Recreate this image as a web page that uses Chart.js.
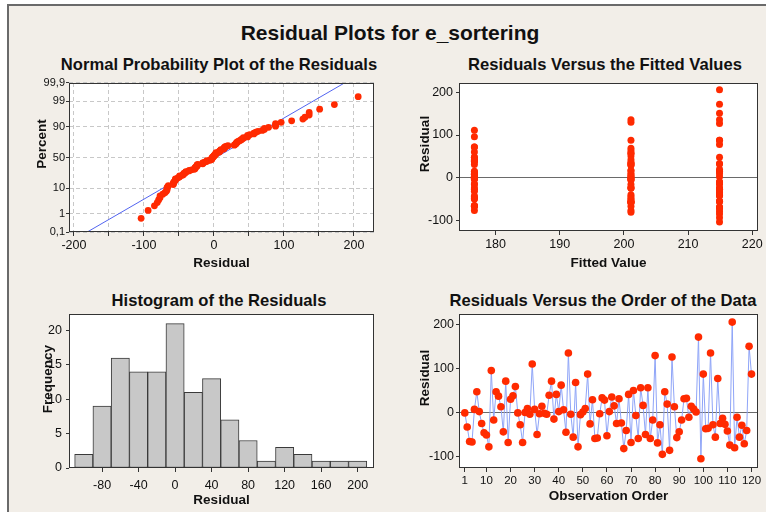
<!DOCTYPE html>
<html>
<head>
<meta charset="utf-8">
<script src="https://cdn.jsdelivr.net/npm/chart.js@4.4.1/dist/chart.umd.min.js"></script>
<style>
  html, body { margin: 0; padding: 0; width: 766px; height: 512px; overflow: hidden; background: #fff; }
  #cadre { position: absolute; left: 7px; top: 4px; width: 820px; height: 600px; background: #f2eee8;
           border-left: 2px solid #6a6a6a; border-top: 2px solid #6a6a6a; }
  .texte { position: absolute; font-family: "Liberation Sans", Arial, sans-serif; font-weight: bold;
           color: #111; white-space: nowrap; transform: translateX(-50%); }
  .vertical { position: absolute; font-family: "Liberation Sans", Arial, sans-serif; font-weight: bold;
              color: #111; white-space: nowrap; font-size: 13.5px; line-height: 14px;
              transform: translate(-50%, -50%) rotate(-90deg); z-index: 2; }
  canvas { position: absolute; }
</style>
</head>
<body>
<div id="cadre"></div>
<div class="texte" style="left:390px; top:22px; font-size:21px; line-height:21px;">Residual Plots for e_sortering</div>
<div class="texte" style="left:219px; top:56px; font-size:16.6px; line-height:17px;">Normal Probability Plot of the Residuals</div>
<div class="texte" style="left:605px; top:56px; font-size:16.6px; line-height:17px;">Residuals Versus the Fitted Values</div>
<div class="texte" style="left:219px; top:292px; font-size:16.6px; line-height:17px;">Histogram of the Residuals</div>
<div class="texte" style="left:603px; top:292px; font-size:16.6px; line-height:17px;">Residuals Versus the Order of the Data</div>
<canvas id="chartProba"></canvas>
<canvas id="chartAjustes"></canvas>
<canvas id="chartHisto"></canvas>
<canvas id="chartOrdre"></canvas>
<div class="vertical" style="left:42px; top:144px;">Percent</div>
<div class="vertical" style="left:425px; top:144px;">Residual</div>
<div class="vertical" style="left:48px; top:379px;">Frequency</div>
<div class="vertical" style="left:425px; top:378px;">Residual</div>
<script>
//? Données.

// valeurs ajustées des trois groupes (40 observations chacun, dans l'ordre)
const niveauxAjustes = [176.7, 201.1, 214.9];

// résidus, observations 1 à 40
const residusGroupe1 = [
  0, -32, -65, -66, 8, 48, 3, -24, -45, -50,
  -77, 96, -16, 48, 38, 14, -43, 72, -67, 31,
  39, 60, 0, -27, -67, 1, 10, -3, 111, 8,
  -49, -2, 15, -1, -3, 40, 72, -14, 42, 3,
];

// résidus, observations 41 à 80
const residusGroupe2 = [
  63, 7, -44, 136, -3, -55, 69, -77, -4, 2,
  10, 88, -25, 30, -58, -57, -2, 34, 29, -52,
  3, 36, 16, -24, 32, -23, -81, -40, 42, -67,
  51, -6, -58, 57, 17, -49, 57, -58, -16, 130,
];

// résidus, observations 81 à 120
const residusGroupe3 = [
  -68, -27, -94, 48, 20, -85, 127, 14, -56, -43,
  -16, 32, 33, -10, 15, 9, 2, 172, -104, 88,
  -36, -35, 136, -27, -55, 78, -24, -12, -26, -41,
  -73, 206, -79, -10, -55, -28, -70, -40, 151, 88,
];

// histogramme
const centresHisto = [-100, -80, -60, -40, -20, 0, 20, 40, 60, 80, 100, 120, 140, 160, 180, 200];
const effectifsHisto = [2, 9, 16, 14, 14, 21, 11, 13, 7, 4, 1, 3, 2, 1, 1, 1];

// graduations
const ticksProbaX = [-200, -150, -100, -50, 0, 50, 100, 150, 200];
const pourcentages = [0.1, 1, 10, 50, 90, 99, 99.9];
const etiquettesPourcentages = ["0,1", "1", "10", "50", "90", "99", "99,9"];
const ticksAjustes = [180, 190, 200, 210, 220];
const ticksResidus = [-100, 0, 100, 200];
const ticksHistoX = [-80, -40, 0, 40, 80, 120, 160, 200];
const ticksHistoY = [0, 5, 10, 15, 20];
const ticksOrdre = [1, 10, 20, 30, 40, 50, 60, 70, 80, 90, 100, 110, 120];

//? -------------------------------------------------

//? Outils.

const ROUGE = "#ff2a00";
const groupes = [residusGroupe1, residusGroupe2, residusGroupe3];
const residus = groupes.flat();

// quantile de la loi normale (Acklam)
const qnorm = (p) => {
  const a = [-39.69683028665376, 220.9460984245205, -275.9285104469687, 138.357751867269, -30.66479806614716, 2.506628277459239];
  const b = [-54.47609879822406, 161.5858368580409, -155.6989798598866, 66.80131188771972, -13.28068155288572];
  const c = [-0.007784894002430293, -0.3223964580411365, -2.400758277161838, -2.549732539343734, 4.374664141464968, 2.938163982698783];
  const d = [0.007784695709041462, 0.3224671290700398, 2.445134137142996, 3.754408661907416];
  const plow = 0.02425;
  if (p < plow || p > 1 - plow) {
    const q = Math.sqrt(-2 * Math.log(p < plow ? p : 1 - p));
    const z = (((((c[0] * q + c[1]) * q + c[2]) * q + c[3]) * q + c[4]) * q + c[5]) /
      ((((d[0] * q + d[1]) * q + d[2]) * q + d[3]) * q + 1);
    return p < plow ? z : -z;
  }
  const q = p - 0.5;
  const r = q * q;
  return (((((a[0] * r + a[1]) * r + a[2]) * r + a[3]) * r + a[4]) * r + a[5]) * q /
    (((((b[0] * r + b[1]) * r + b[2]) * r + b[3]) * r + b[4]) * r + 1);
};

Chart.defaults.font.family = '"Liberation Sans", Arial, sans-serif';
Chart.defaults.color = "#111";

const pluginCadre = {
  id: "cadre",
  beforeDraw(chart) {
    const { ctx, chartArea: a } = chart;
    ctx.save();
    ctx.fillStyle = "#fff";
    ctx.fillRect(a.left, a.top, a.right - a.left, a.bottom - a.top);
    ctx.restore();
  },
  afterDraw(chart) {
    const { ctx, chartArea: a } = chart;
    ctx.save();
    ctx.strokeStyle = "#333";
    ctx.lineWidth = 1;
    ctx.strokeRect(Math.round(a.left) + 0.5, Math.round(a.top) + 0.5,
      Math.round(a.right - a.left) - 1, Math.round(a.bottom - a.top) - 1);
    ctx.restore();
  },
};

const echelle = (min, max, valeurs, taille, pad, titre, padTitre, extra = {}) => ({
  type: "linear",
  min,
  max,
  offset: false,
  afterBuildTicks: (s) => {
    s.ticks = valeurs.map((v) => ({ value: v }));
  },
  ticks: { font: { size: taille }, color: "#111", padding: pad, autoSkip: false, maxRotation: 0, ...(extra.ticks || {}) },
  grid: { offset: false, drawOnChartArea: false, tickLength: 4, tickColor: "#333", color: "#333", ...(extra.grid || {}) },
  border: { display: false, ...(extra.border || {}) },
  title: { display: !!titre, text: titre, color: "#111", font: { size: 13.5, weight: "bold" }, padding: padTitre },
});

const creerPanneau = (id, boite, zone, type, datasets, echX, echY) => {
  const canvas = document.getElementById(id);
  canvas.width = boite.w;
  canvas.height = boite.h;
  canvas.style.left = boite.x + "px";
  canvas.style.top = boite.y + "px";
  echX.afterFit = (s) => {
    s.height = boite.y + boite.h - zone.b;
    s.paddingLeft = 0;
    s.paddingRight = 0;
  };
  echY.afterFit = (s) => {
    s.width = zone.l - boite.x;
    s.paddingTop = 0;
    s.paddingBottom = 0;
  };
  return new Chart(canvas, {
    type,
    data: { datasets },
    options: {
      responsive: false,
      animation: false,
      devicePixelRatio: 1,
      events: [],
      layout: { padding: { top: zone.t - boite.y, right: boite.x + boite.w - zone.r, left: 0, bottom: 0 } },
      plugins: { legend: { display: false }, tooltip: { enabled: false } },
      scales: { x: echX, y: echY },
    },
    plugins: [pluginCadre],
  });
};

//? -------------------------------------------------

//? Graphique de probabilité normale.

try {
  const tries = [...residus].sort((u, v) => u - v);
  const n = tries.length;
  const pointsProba = tries.map((v, i) => ({ x: v, y: qnorm((i + 1 - 0.3) / (n + 0.4)) }));
  const moyenne = residus.reduce((s, v) => s + v, 0) / n;
  const ecart = Math.sqrt(residus.reduce((s, v) => s + (v - moyenne) ** 2, 0) / (n - 1));
  const zMin = qnorm(0.001);
  const zMax = qnorm(0.999);
  const ligneProba = [zMin, zMax].map((z) => ({ x: moyenne + ecart * z, y: z }));

  const grilleTiret = { drawOnChartArea: true, color: "#c8c8c8", tickColor: "#333", tickBorderDash: [] };

  creerPanneau(
    "chartProba",
    { x: 14, y: 76, w: 376, h: 200 },
    { l: 69, r: 374, t: 83, b: 232 },
    "scatter",
    [
      { data: pointsProba, pointRadius: 3.4, pointBorderWidth: 0, pointBackgroundColor: ROUGE },
      { data: ligneProba, showLine: true, borderColor: "#5264f0", borderWidth: 1, pointRadius: 0 },
    ],
    echelle(-207, 228.6, ticksProbaX, 12.5, 2, "Residual", { bottom: 5 }, {
      ticks: { callback: (v) => (v % 100 === 0 ? String(v) : "") },
      grid: grilleTiret,
      border: { dash: [4, 3] },
    }),
    echelle(zMin, zMax, pourcentages.map((p) => qnorm(p / 100)), 11, 1, "", {}, {
      ticks: { callback: (v, i) => etiquettesPourcentages[i] },
      grid: { ...grilleTiret, tickLength: 3 },
      border: { dash: [4, 3] },
    })
  );
} catch (error) {
  console.error("🔴 ERREUR | Graphique de probabilité :", error);
}

//? -------------------------------------------------

//? Résidus selon les valeurs ajustées.

const grilleZero = {
  drawOnChartArea: true,
  color: (c) => (c.tick && c.tick.value === 0 ? "#6a6a6a" : "rgba(0,0,0,0)"),
  tickColor: "#333",
  tickLength: 3,
};

try {
  const pointsAjustes = groupes.flatMap((g, k) => g.map((v) => ({ x: niveauxAjustes[k], y: v })));

  creerPanneau(
    "chartAjustes",
    { x: 400, y: 76, w: 366, h: 200 },
    { l: 459, r: 758, t: 83, b: 231 },
    "scatter",
    [{ data: pointsAjustes, pointRadius: 3.5, pointBorderWidth: 0, pointBackgroundColor: ROUGE }],
    echelle(174.3, 220.9, ticksAjustes, 12.5, 2, "Fitted Value", { bottom: 5 }),
    echelle(-125, 222, ticksResidus, 12.5, 3, "", {}, { grid: grilleZero })
  );
} catch (error) {
  console.error("🔴 ERREUR | Graphique valeurs ajustées :", error);
}

//? -------------------------------------------------

//? Histogramme des résidus.

try {
  const barres = centresHisto.map((c, i) => ({ x: c, y: effectifsHisto[i] }));

  creerPanneau(
    "chartHisto",
    { x: 14, y: 308, w: 376, h: 204 },
    { l: 69, r: 374, t: 314, b: 468 },
    "bar",
    [{
      data: barres,
      backgroundColor: "#c8c8c8",
      borderColor: "#3a3a3a",
      borderWidth: 1,
      borderSkipped: false,
      barPercentage: 1,
      categoryPercentage: 1,
    }],
    echelle(-116.2, 217.9, ticksHistoX, 12.5, 6, "Residual", { bottom: 4 }),
    echelle(0, 22.4, ticksHistoY, 12.5, 4, "", {}, { grid: { tickLength: 3 } })
  );
} catch (error) {
  console.error("🔴 ERREUR | Histogramme :", error);
}

//? -------------------------------------------------

//? Résidus selon l'ordre des observations.

try {
  const pointsOrdre = residus.map((v, i) => ({ x: i + 1, y: v }));

  creerPanneau(
    "chartOrdre",
    { x: 400, y: 308, w: 366, h: 204 },
    { l: 459, r: 758, t: 314, b: 468 },
    "scatter",
    [{
      data: pointsOrdre,
      showLine: true,
      borderColor: "#8fa5f8",
      borderWidth: 1,
      pointRadius: 3.8,
      pointBorderWidth: 0,
      pointBackgroundColor: ROUGE,
    }],
    echelle(-1.4, 122.7, ticksOrdre, 11.5, 2, "Observation Order", { bottom: 8 }),
    echelle(-125, 224.4, ticksResidus, 12.5, 2, "", {}, { grid: grilleZero })
  );
} catch (error) {
  console.error("🔴 ERREUR | Graphique ordre :", error);
}
</script>
</body>
</html>
